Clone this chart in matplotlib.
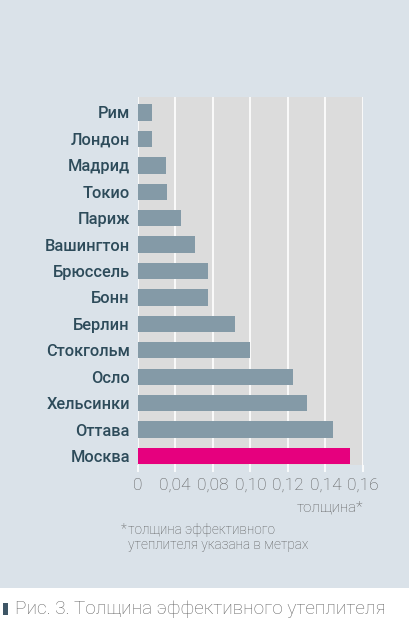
import numpy as np
import matplotlib
matplotlib.use("Agg")
import matplotlib.pyplot as plt
from matplotlib.patches import Rectangle

cities = ["Рим", "Лондон", "Мадрид", "Токио", "Париж", "Вашингтон", "Брюссель",
          "Бонн", "Берлин", "Стокгольм", "Осло", "Хельсинки", "Оттава", "Москва"]
thickness = [0.015, 0.015, 0.030, 0.031, 0.046, 0.061, 0.075,
             0.075, 0.092, 0.100, 0.123, 0.130, 0.144, 0.153]
tick_values = [0, 0.04, 0.08, 0.10, 0.12, 0.14, 0.16]
tick_labels = ["0", "0,04", "0,08", "0,10", "0,12", "0,14", "0,16"]

plt.rcParams["font.family"] = ["Roboto", "DejaVu Sans"]

panel_bg = "#dae2e9"
plot_bg = "#dcdcdc"
bar_col = "#849aa7"
hi_col = "#e6007e"
label_col = "#2d4b5a"
text_col = "#5a5a5a"

fig = plt.figure(figsize=(4.11, 6.26), dpi=100)
fig.patch.set_facecolor("white")
fig.patches.append(Rectangle((0, 1 - 588 / 626), 409 / 411, 588 / 626,
                             transform=fig.transFigure, facecolor=panel_bg,
                             edgecolor="none", zorder=-5))

ax = fig.add_axes([137.5 / 411, 1 - 465 / 626, (363 - 137.5) / 411, (465 - 97) / 626])
ax.set_zorder(2)
ax.set_facecolor(plot_bg)

# uneven axis: ticks are equally spaced on the picture
pos = np.arange(len(tick_values))
ax.set_xscale("function", functions=(lambda v: np.interp(v, tick_values, pos),
                                     lambda p: np.interp(p, pos, tick_values)))

y = np.arange(len(cities))
colors = [bar_col] * (len(cities) - 1) + [hi_col]
ax.barh(y, thickness, height=0.62, color=colors, zorder=3)

ax.set_xlim(0, 0.16)
ax.set_ylim(len(cities) - 1 + 0.34, -0.585)
ax.set_xticks(tick_values)
ax.set_xticklabels(tick_labels, fontsize=12.5, fontweight="light", color=text_col)
ax.set_yticks(y)
ax.set_yticklabels(cities, fontsize=11.8, fontweight="medium", color=label_col)
ax.tick_params(axis="y", length=0, pad=5.5)
ax.tick_params(axis="x", length=5, width=1.2, color="white", pad=4)
ax.xaxis.grid(True, color="white", linewidth=1.2, zorder=1)
ax.set_axisbelow(True)
for s in ax.spines.values():
    s.set_visible(False)

fig.text(363 / 411, 1 - 508 / 626, "толщина*", ha="right", va="center",
         fontsize=11, fontweight="light", color=text_col)
fig.text(121 / 411, 1 - 529 / 626, "*", ha="left", va="center",
         fontsize=9.8, fontweight="light", color=text_col)
fig.text(128 / 411, 1 - 530 / 626, "толщина эффективного", ha="left", va="center",
         fontsize=9.8, fontweight="light", color=text_col)
fig.text(128 / 411, 1 - 545 / 626, "утеплителя указана в метрах", ha="left", va="center",
         fontsize=9.8, fontweight="light", color=text_col)

fig.patches.append(Rectangle((2.5 / 411, 1 - 615 / 626), 5.5 / 411, 12 / 626,
                             transform=fig.transFigure, facecolor="#3e5666",
                             edgecolor="none"))
fig.text(15 / 411, 1 - 609 / 626, "Рис. 3. Толщина эффективного утеплителя",
         ha="left", va="center", fontsize=13.7, fontweight="light", color="#666666")

fig.savefig("out.png", dpi=100, facecolor=fig.get_facecolor())
